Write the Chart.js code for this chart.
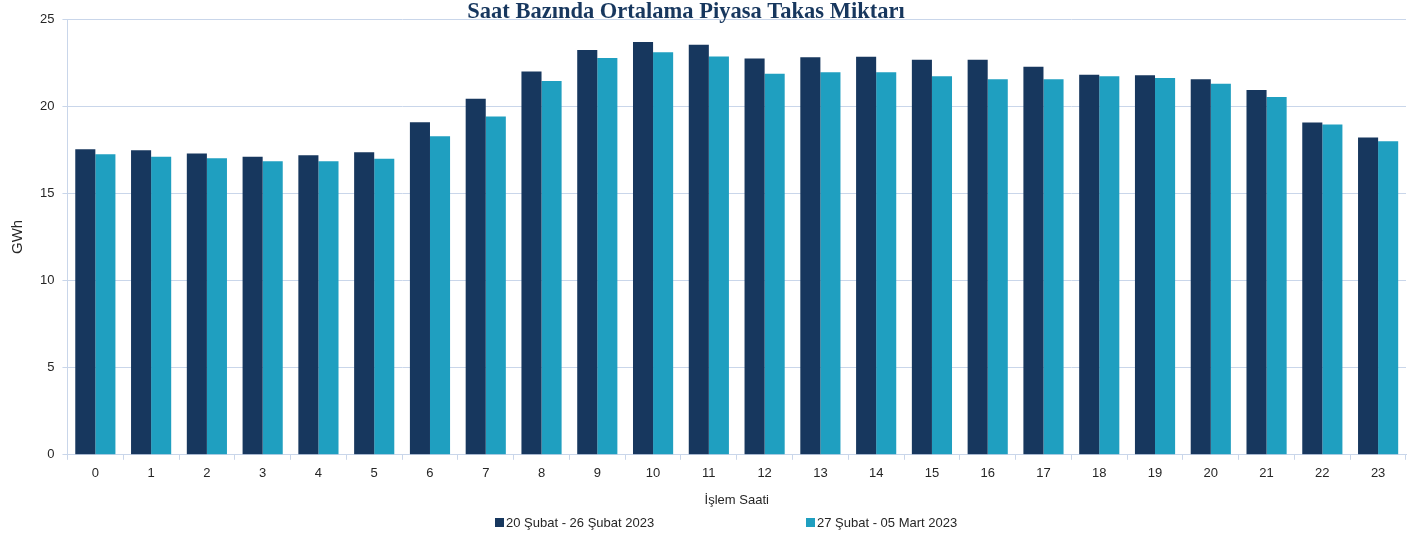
<!DOCTYPE html>
<html>
<head>
<meta charset="utf-8">
<script src="https://cdn.jsdelivr.net/npm/chart.js@4/dist/chart.umd.min.js"></script>
<style>
  body { margin: 0; background: #fff; }
  #wrap { position: relative; width: 1424px; height: 536px; }
</style>
</head>
<body>
<div id="wrap"><canvas id="chart"></canvas></div>
<script>
// === Data ===
const hours = ['0','1','2','3','4','5','6','7','8','9','10','11','12','13','14','15','16','17','18','19','20','21','22','23'];
const seriesNames = ['20 Şubat - 26 Şubat 2023', '27 Şubat - 05 Mart 2023'];
const week1 = [17.53, 17.47, 17.28, 17.10, 17.18, 17.36, 19.08, 20.42, 21.99, 23.22, 23.68, 23.52,
               22.74, 22.80, 22.83, 22.66, 22.66, 22.26, 21.80, 21.78, 21.55, 20.92, 19.06, 18.20];
const week2 = [17.24, 17.10, 17.01, 16.84, 16.84, 16.99, 18.28, 19.41, 21.45, 22.76, 23.09, 22.85,
               21.86, 21.94, 21.94, 21.72, 21.55, 21.55, 21.71, 21.61, 21.28, 20.53, 18.95, 17.99];
const yMin = 0, yMax = 25, yStep = 5;

const titleText = 'Saat Bazında Ortalama Piyasa Takas Miktarı';
const colors = ['#17375E', '#1F9FC0'];
const gridColor = '#C9D6EA';
const textColor = '#262626';

// === Title (drawn over the top of the plot, like the original) ===
const titlePlugin = {
  id: 'topTitle',
  afterDraw(chart) {
    const ctx = chart.ctx;
    ctx.save();
    ctx.font = 'bold 22.5px "Liberation Serif", serif';
    ctx.fillStyle = '#17375E';
    ctx.textAlign = 'center';
    ctx.textBaseline = 'middle';
    ctx.fillText(titleText, 686, 12);
    ctx.restore();
  }
};

// === Legend (wide spacing, bottom) ===
const legendPlugin = {
  id: 'wideLegend',
  afterDraw(chart) {
    const ctx = chart.ctx;
    const xs = [495, 806];
    const y = 523;
    ctx.save();
    ctx.font = '13px "Liberation Sans", sans-serif';
    ctx.textBaseline = 'middle';
    ctx.textAlign = 'left';
    chart.data.datasets.forEach((ds, i) => {
      ctx.fillStyle = ds.backgroundColor;
      ctx.fillRect(xs[i], y - 5, 9, 9);
      ctx.fillStyle = textColor;
      ctx.fillText(ds.label, xs[i] + 11, y);
    });
    ctx.restore();
  }
};

const ctx = document.getElementById('chart').getContext('2d');
new Chart(ctx, {
  type: 'bar',
  data: {
    labels: hours,
    datasets: [
      { label: seriesNames[0], data: week1, backgroundColor: colors[0] },
      { label: seriesNames[1], data: week2, backgroundColor: colors[1] }
    ]
  },
  options: {
    responsive: true,
    maintainAspectRatio: false,
    animation: false,
    layout: { padding: { top: 19, right: 18, bottom: 28, left: 9 } },
    datasets: { bar: { categoryPercentage: 0.72, barPercentage: 1.0 } },
    plugins: {
      legend: { display: false },
      title: { display: false },
      tooltip: { enabled: false }
    },
    scales: {
      x: {
        offset: true,
        grid: { offset: true, drawOnChartArea: false, drawTicks: true, tickLength: 5, color: gridColor },
        border: { color: gridColor, width: 1 },
        ticks: { color: textColor, font: { family: 'Liberation Sans', size: 13 }, padding: 6, maxRotation: 0 },
        title: { display: true, text: 'İşlem Saati', color: textColor, font: { family: 'Liberation Sans', size: 13 }, padding: { top: 5, bottom: 0 } }
      },
      y: {
        min: yMin,
        max: yMax,
        ticks: { stepSize: yStep, color: textColor, font: { family: 'Liberation Sans', size: 13 }, padding: 8 },
        grid: { color: gridColor, lineWidth: 1, drawTicks: true, tickLength: 5 },
        border: { color: gridColor, width: 1 },
        title: { display: true, text: 'GWh', color: textColor, font: { family: 'Liberation Sans', size: 15 }, padding: { top: 0, bottom: 5 } }
      }
    }
  },
  plugins: [titlePlugin, legendPlugin]
});
</script>
</body>
</html>
